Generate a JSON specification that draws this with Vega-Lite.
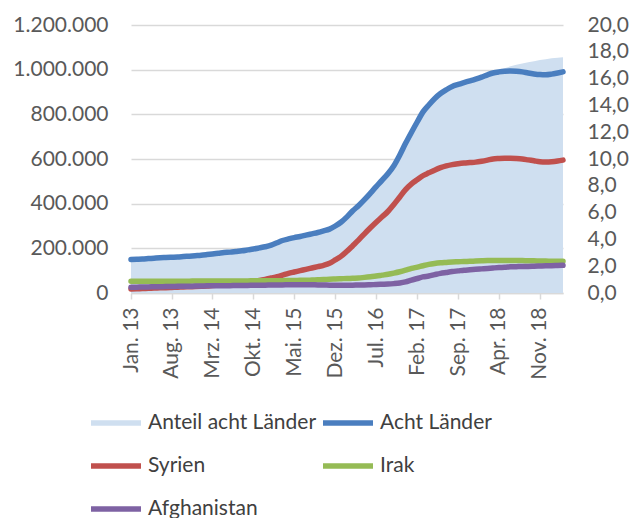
{
  "$schema": "https://vega.github.io/schema/vega-lite/v6.json",
  "autosize": {"type": "none"},
  "width": 432,
  "height": 268,
  "padding": {"left": 131, "top": 25, "right": 78, "bottom": 225},
  "config": {
    "view": {"stroke": null},
    "font": "Lato",
    "locale": {
      "number": {"decimal": ",", "thousands": ".", "grouping": [3], "currency": ["", " €"]},
      "time": {
        "dateTime": "%A, %e. %B %Y, %X",
        "date": "%d.%m.%Y",
        "time": "%H:%M:%S",
        "periods": ["AM", "PM"],
        "days": ["Sonntag", "Montag", "Dienstag", "Mittwoch", "Donnerstag", "Freitag", "Samstag"],
        "shortDays": ["So", "Mo", "Di", "Mi", "Do", "Fr", "Sa"],
        "months": ["Januar", "Februar", "März", "April", "Mai", "Juni", "Juli", "August", "September", "Oktober", "November", "Dezember"],
        "shortMonths": ["Jan.", "Feb.", "Mrz.", "Apr.", "Mai.", "Jun.", "Jul.", "Aug.", "Sep.", "Okt.", "Nov.", "Dez."]
      }
    },
    "axis": {"labelFont": "Lato", "labelFontSize": 21, "labelColor": "#595959"}
  },
  "data": {"values": [
    {"date": "2013-01-01", "anteil": 2.50, "acht": 150000, "syrien": 18000, "irak": 53000, "afgh": 26000},
    {"date": "2013-02-01", "anteil": 2.52, "acht": 151000, "syrien": 19000, "irak": 53000, "afgh": 26000},
    {"date": "2013-03-01", "anteil": 2.53, "acht": 152000, "syrien": 20000, "irak": 53000, "afgh": 27000},
    {"date": "2013-04-01", "anteil": 2.57, "acht": 154000, "syrien": 21000, "irak": 53000, "afgh": 27000},
    {"date": "2013-05-01", "anteil": 2.60, "acht": 156000, "syrien": 22000, "irak": 53000, "afgh": 28000},
    {"date": "2013-06-01", "anteil": 2.63, "acht": 158000, "syrien": 23000, "irak": 53000, "afgh": 28000},
    {"date": "2013-07-01", "anteil": 2.65, "acht": 159000, "syrien": 24000, "irak": 53000, "afgh": 29000},
    {"date": "2013-08-01", "anteil": 2.67, "acht": 160000, "syrien": 25000, "irak": 53000, "afgh": 29000},
    {"date": "2013-09-01", "anteil": 2.68, "acht": 161000, "syrien": 26000, "irak": 53000, "afgh": 30000},
    {"date": "2013-10-01", "anteil": 2.72, "acht": 163000, "syrien": 27000, "irak": 53000, "afgh": 30000},
    {"date": "2013-11-01", "anteil": 2.75, "acht": 165000, "syrien": 28000, "irak": 53000, "afgh": 30000},
    {"date": "2013-12-01", "anteil": 2.78, "acht": 167000, "syrien": 29000, "irak": 54000, "afgh": 31000},
    {"date": "2014-01-01", "anteil": 2.82, "acht": 169000, "syrien": 30000, "irak": 54000, "afgh": 31000},
    {"date": "2014-02-01", "anteil": 2.87, "acht": 172000, "syrien": 31000, "irak": 54000, "afgh": 32000},
    {"date": "2014-03-01", "anteil": 2.92, "acht": 175000, "syrien": 33000, "irak": 54000, "afgh": 32000},
    {"date": "2014-04-01", "anteil": 2.97, "acht": 178000, "syrien": 35000, "irak": 54000, "afgh": 32000},
    {"date": "2014-05-01", "anteil": 3.02, "acht": 181000, "syrien": 37000, "irak": 54000, "afgh": 33000},
    {"date": "2014-06-01", "anteil": 3.05, "acht": 183000, "syrien": 39000, "irak": 54000, "afgh": 33000},
    {"date": "2014-07-01", "anteil": 3.10, "acht": 186000, "syrien": 42000, "irak": 54000, "afgh": 34000},
    {"date": "2014-08-01", "anteil": 3.15, "acht": 189000, "syrien": 45000, "irak": 54000, "afgh": 34000},
    {"date": "2014-09-01", "anteil": 3.22, "acht": 193000, "syrien": 48000, "irak": 54000, "afgh": 34000},
    {"date": "2014-10-01", "anteil": 3.28, "acht": 197000, "syrien": 52000, "irak": 55000, "afgh": 35000},
    {"date": "2014-11-01", "anteil": 3.37, "acht": 202000, "syrien": 56000, "irak": 55000, "afgh": 35000},
    {"date": "2014-12-01", "anteil": 3.45, "acht": 207000, "syrien": 61000, "irak": 55000, "afgh": 35000},
    {"date": "2015-01-01", "anteil": 3.57, "acht": 214000, "syrien": 67000, "irak": 55000, "afgh": 36000},
    {"date": "2015-02-01", "anteil": 3.75, "acht": 225000, "syrien": 73000, "irak": 55000, "afgh": 36000},
    {"date": "2015-03-01", "anteil": 3.92, "acht": 235000, "syrien": 80000, "irak": 55000, "afgh": 36000},
    {"date": "2015-04-01", "anteil": 4.03, "acht": 242000, "syrien": 88000, "irak": 56000, "afgh": 37000},
    {"date": "2015-05-01", "anteil": 4.13, "acht": 248000, "syrien": 94000, "irak": 56000, "afgh": 37000},
    {"date": "2015-06-01", "anteil": 4.22, "acht": 253000, "syrien": 100000, "irak": 57000, "afgh": 37000},
    {"date": "2015-07-01", "anteil": 4.32, "acht": 259000, "syrien": 106000, "irak": 57000, "afgh": 37000},
    {"date": "2015-08-01", "anteil": 4.42, "acht": 265000, "syrien": 112000, "irak": 58000, "afgh": 37000},
    {"date": "2015-09-01", "anteil": 4.52, "acht": 271000, "syrien": 118000, "irak": 59000, "afgh": 36000},
    {"date": "2015-10-01", "anteil": 4.63, "acht": 278000, "syrien": 124000, "irak": 60000, "afgh": 36000},
    {"date": "2015-11-01", "anteil": 4.77, "acht": 286000, "syrien": 133000, "irak": 62000, "afgh": 35000},
    {"date": "2015-12-01", "anteil": 5.00, "acht": 300000, "syrien": 148000, "irak": 63000, "afgh": 35000},
    {"date": "2016-01-01", "anteil": 5.30, "acht": 318000, "syrien": 165000, "irak": 64000, "afgh": 35000},
    {"date": "2016-02-01", "anteil": 5.70, "acht": 342000, "syrien": 188000, "irak": 65000, "afgh": 35000},
    {"date": "2016-03-01", "anteil": 6.13, "acht": 368000, "syrien": 212000, "irak": 66000, "afgh": 35000},
    {"date": "2016-04-01", "anteil": 6.53, "acht": 392000, "syrien": 238000, "irak": 67000, "afgh": 36000},
    {"date": "2016-05-01", "anteil": 6.97, "acht": 418000, "syrien": 265000, "irak": 70000, "afgh": 36000},
    {"date": "2016-06-01", "anteil": 7.45, "acht": 447000, "syrien": 292000, "irak": 73000, "afgh": 37000},
    {"date": "2016-07-01", "anteil": 7.93, "acht": 476000, "syrien": 317000, "irak": 76000, "afgh": 38000},
    {"date": "2016-08-01", "anteil": 8.42, "acht": 505000, "syrien": 341000, "irak": 80000, "afgh": 39000},
    {"date": "2016-09-01", "anteil": 8.87, "acht": 535000, "syrien": 366000, "irak": 84000, "afgh": 40000},
    {"date": "2016-10-01", "anteil": 9.42, "acht": 570000, "syrien": 396000, "irak": 89000, "afgh": 42000},
    {"date": "2016-11-01", "anteil": 10.25, "acht": 618000, "syrien": 430000, "irak": 95000, "afgh": 45000},
    {"date": "2016-12-01", "anteil": 11.17, "acht": 670000, "syrien": 463000, "irak": 102000, "afgh": 50000},
    {"date": "2017-01-01", "anteil": 12.00, "acht": 720000, "syrien": 489000, "irak": 110000, "afgh": 58000},
    {"date": "2017-02-01", "anteil": 12.83, "acht": 768000, "syrien": 508000, "irak": 116000, "afgh": 65000},
    {"date": "2017-03-01", "anteil": 13.53, "acht": 810000, "syrien": 525000, "irak": 122000, "afgh": 72000},
    {"date": "2017-04-01", "anteil": 14.03, "acht": 842000, "syrien": 538000, "irak": 128000, "afgh": 76000},
    {"date": "2017-05-01", "anteil": 14.50, "acht": 870000, "syrien": 550000, "irak": 132000, "afgh": 82000},
    {"date": "2017-06-01", "anteil": 14.88, "acht": 893000, "syrien": 561000, "irak": 135000, "afgh": 88000},
    {"date": "2017-07-01", "anteil": 15.17, "acht": 910000, "syrien": 569000, "irak": 137000, "afgh": 92000},
    {"date": "2017-08-01", "anteil": 15.42, "acht": 925000, "syrien": 575000, "irak": 139000, "afgh": 96000},
    {"date": "2017-09-01", "anteil": 15.57, "acht": 934000, "syrien": 579000, "irak": 140000, "afgh": 99000},
    {"date": "2017-10-01", "anteil": 15.70, "acht": 942000, "syrien": 582000, "irak": 141000, "afgh": 102000},
    {"date": "2017-11-01", "anteil": 15.83, "acht": 950000, "syrien": 584000, "irak": 142000, "afgh": 104000},
    {"date": "2017-12-01", "anteil": 15.97, "acht": 958000, "syrien": 586000, "irak": 143000, "afgh": 106000},
    {"date": "2018-01-01", "anteil": 16.12, "acht": 967000, "syrien": 590000, "irak": 144000, "afgh": 108000},
    {"date": "2018-02-01", "anteil": 16.30, "acht": 977000, "syrien": 595000, "irak": 145000, "afgh": 110000},
    {"date": "2018-03-01", "anteil": 16.45, "acht": 985000, "syrien": 600000, "irak": 146000, "afgh": 112000},
    {"date": "2018-04-01", "anteil": 16.62, "acht": 990000, "syrien": 602000, "irak": 146000, "afgh": 114000},
    {"date": "2018-05-01", "anteil": 16.78, "acht": 993000, "syrien": 603000, "irak": 146000, "afgh": 115000},
    {"date": "2018-06-01", "anteil": 16.92, "acht": 994000, "syrien": 603000, "irak": 146000, "afgh": 117000},
    {"date": "2018-07-01", "anteil": 17.03, "acht": 993000, "syrien": 602000, "irak": 145000, "afgh": 118000},
    {"date": "2018-08-01", "anteil": 17.13, "acht": 990000, "syrien": 600000, "irak": 145000, "afgh": 119000},
    {"date": "2018-09-01", "anteil": 17.22, "acht": 985000, "syrien": 596000, "irak": 144000, "afgh": 119000},
    {"date": "2018-10-01", "anteil": 17.30, "acht": 981000, "syrien": 592000, "irak": 144000, "afgh": 120000},
    {"date": "2018-11-01", "anteil": 17.38, "acht": 978000, "syrien": 588000, "irak": 143000, "afgh": 121000},
    {"date": "2018-12-01", "anteil": 17.45, "acht": 977000, "syrien": 587000, "irak": 143000, "afgh": 122000},
    {"date": "2019-01-01", "anteil": 17.51, "acht": 980000, "syrien": 588000, "irak": 142000, "afgh": 122000},
    {"date": "2019-02-01", "anteil": 17.56, "acht": 985000, "syrien": 591000, "irak": 142000, "afgh": 123000},
    {"date": "2019-03-01", "anteil": 17.60, "acht": 990000, "syrien": 595000, "irak": 142000, "afgh": 124000}
  ]},
  "encoding": {
    "x": {
      "field": "date",
      "type": "temporal",
      "scale": {
        "type": "utc",
        "domain": [{"year": 2013, "month": 1, "date": 1, "utc": true}, {"year": 2019, "month": 3, "date": 1, "utc": true}]
      },
      "axis": {
        "title": null,
        "format": "%b %y",
        "labelAngle": -90,
        "labelAlign": "right",
        "labelBaseline": "middle",
        "labelPadding": 8,
        "tickSize": 6,
        "tickColor": "#d9d9d9",
        "tickWidth": 1.5,
        "domainColor": "#d9d9d9",
        "domainWidth": 1.5,
        "grid": false,
        "labelOverlap": false,
        "values": [
          {"year": 2013, "month": 1, "date": 1, "utc": true},
          {"year": 2013, "month": 8, "date": 1, "utc": true},
          {"year": 2014, "month": 3, "date": 1, "utc": true},
          {"year": 2014, "month": 10, "date": 1, "utc": true},
          {"year": 2015, "month": 5, "date": 1, "utc": true},
          {"year": 2015, "month": 12, "date": 1, "utc": true},
          {"year": 2016, "month": 7, "date": 1, "utc": true},
          {"year": 2017, "month": 2, "date": 1, "utc": true},
          {"year": 2017, "month": 9, "date": 1, "utc": true},
          {"year": 2018, "month": 4, "date": 1, "utc": true},
          {"year": 2018, "month": 11, "date": 1, "utc": true}
        ]
      }
    }
  },
  "layer": [
    {
      "mark": {"type": "area", "opacity": 1},
      "encoding": {
        "y": {
          "field": "anteil",
          "type": "quantitative",
          "scale": {"domain": [0, 20]},
          "axis": {
            "orient": "right",
            "title": null,
            "values": [0, 2, 4, 6, 8, 10, 12, 14, 16, 18, 20],
            "format": ".1f",
            "grid": false,
            "domain": false,
            "ticks": false,
            "labelPadding": 24
          }
        },
        "color": {
          "datum": "Anteil acht Länder",
          "type": "nominal",
          "scale": {
            "domain": ["Anteil acht Länder", "Acht Länder", "Syrien", "Irak", "Afghanistan"],
            "range": ["#cfdff0", "#4a7ebf", "#c0504d", "#95bb55", "#7e62a3"]
          },
          "legend": {
            "title": null,
            "orient": "none",
            "legendX": -43,
            "legendY": 370,
            "direction": "horizontal",
            "columns": 2,
            "symbolType": "stroke",
            "symbolSize": 2500,
            "symbolStrokeWidth": 5.5,
            "labelFont": "Lato",
            "labelFontSize": 21,
            "labelColor": "#404040",
            "labelOffset": 4,
            "labelLimit": 400,
            "columnPadding": -5,
            "rowPadding": 4,
            "encode": {
              "symbols": {
                "update": {
                  "stroke": {"signal": "scale('color', datum.value)"},
                  "strokeWidth": {"signal": "datum.value === 'Anteil acht Länder' ? 13 : 5.5"},
                  "strokeCap": {"signal": "datum.value === 'Anteil acht Länder' ? 'butt' : 'round'"}
                }
              }
            }
          }
        }
      }
    },
    {
      "layer": [
        {
          "mark": {"type": "line", "strokeWidth": 5.5, "strokeCap": "round", "strokeJoin": "round", "interpolate": "monotone"},
          "encoding": {
            "y": {
              "field": "acht",
              "type": "quantitative",
              "scale": {"domain": [0, 1200000]},
              "axis": {
                "orient": "left",
                "title": null,
                "values": [0, 200000, 400000, 600000, 800000, 1000000, 1200000],
                "format": ",.0f",
                "grid": true,
                "gridColor": "#d9d9d9",
                "gridWidth": 1.5,
                "domain": false,
                "ticks": false,
                "labelPadding": 23
              }
            },
            "color": {"datum": "Acht Länder", "type": "nominal"}
          }
        },
        {
          "mark": {"type": "line", "strokeWidth": 5.5, "strokeCap": "round", "strokeJoin": "round", "interpolate": "monotone"},
          "encoding": {
            "y": {"field": "syrien", "type": "quantitative", "axis": {"title": null}},
            "color": {"datum": "Syrien", "type": "nominal"}
          }
        },
        {
          "mark": {"type": "line", "strokeWidth": 5.5, "strokeCap": "round", "strokeJoin": "round", "interpolate": "monotone"},
          "encoding": {
            "y": {"field": "irak", "type": "quantitative", "axis": {"title": null}},
            "color": {"datum": "Irak", "type": "nominal"}
          }
        },
        {
          "mark": {"type": "line", "strokeWidth": 5.5, "strokeCap": "round", "strokeJoin": "round", "interpolate": "monotone"},
          "encoding": {
            "y": {"field": "afgh", "type": "quantitative", "axis": {"title": null}},
            "color": {"datum": "Afghanistan", "type": "nominal"}
          }
        }
      ]
    }
  ],
  "resolve": {"scale": {"y": "independent"}}
}
